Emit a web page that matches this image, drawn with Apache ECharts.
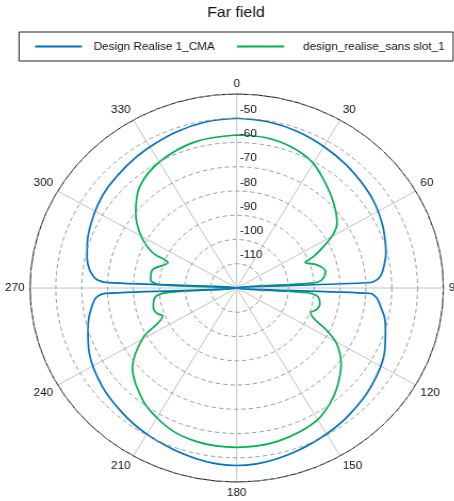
<!DOCTYPE html>
<html><head><meta charset="utf-8">
<script src="https://cdn.jsdelivr.net/npm/echarts@6/dist/echarts.min.js"></script>
<style>
html,body{margin:0;padding:0;background:#fff;overflow:hidden}
#c{width:472px;height:501px;transform:scaleX(1.0655);transform-origin:236.7px 0;}
</style>
</head><body><div id="c"></div>
<script>
// ---- data ----
const titleText = 'Far field';
const seriesNames = ['Design Realise 1_CMA', 'design_realise_sans slot_1'];
const angleTicks = [0, 30, 60, 90, 120, 150, 180, 210, 240, 270, 300, 330];
const radiusTicks = [-120, -110, -100, -90, -80, -70, -60, -50, -40];

const blueAngles = [0,10,20,30,40,50,57,65,72,76,81,84,85.5,86.5,87.5,90,92.5,93.5,95,98,102,106,115,128,140,150,160,168,174,180,186,192,200,210,220,232,245,253,258,262,265,266.5,267.5,270,272.5,273.5,275,277.6,282,288,295,302.6,310,320,329,340,350,360];
const blueValues = [-50,-50.4,-51.3,-52.6,-53.9,-55.2,-56.2,-57.8,-59.5,-60.5,-62.3,-63.6,-64.6,-65.8,-68,-120,-68,-66.5,-65.2,-63.7,-61.5,-60.1,-56.9,-54.0,-52.0,-50.5,-49.0,-47.8,-47.1,-46.8,-47.1,-47.8,-49.0,-50.4,-52.0,-54.0,-57.0,-59.8,-61.5,-63.3,-64.8,-66.2,-69,-120,-70,-66,-64.3,-62.5,-60.8,-59.2,-57.7,-56.2,-55.1,-54.0,-52.9,-51.5,-50.5,-50];

const greenAngles = [0,10,20,29,37,47,55.5,59,63,66.4,68.4,72.8,78.8,84.1,86,90,94,96,101.8,106,109.7,116.8,120.9,127.9,136.6,143,150,158,166,173,180,187,194,202,210,218,230.9,240.5,248.2,251,255.9,262.8,266,270,272.6,275.8,283,291.5,294,299.9,308.3,318.1,330.2,345,360];
const greenValues = [-56.9,-57.0,-58.1,-60.3,-64.1,-68.7,-72.9,-76.2,-82.2,-87.5,-91.5,-87.5,-85,-86.8,-90.1,-120,-93.5,-88.7,-87.1,-87.8,-89.6,-80.8,-74.8,-68.8,-63.5,-60.2,-57.3,-55.8,-54.8,-54.4,-54.3,-54.4,-54.8,-55.9,-58.2,-61.1,-68,-78.4,-89.1,-87.5,-86.7,-88,-93,-120,-90.6,-86.5,-86.5,-91.4,-84.5,-77.4,-70.2,-63.8,-60,-57.6,-56.9];

const colors = ['#0072BD', '#00B050'];

function pairs(vals, angs) { return vals.map((v, i) => [v, angs[i]]); }

const chart = echarts.init(document.getElementById('c'), null, {renderer: 'canvas'});
const FONT = 'Liberation Sans, Arial, Helvetica, sans-serif';
chart.setOption({
  animation: false,
  backgroundColor: '#fff',
  title: {
    text: titleText, left: 'center', top: 0,
    textStyle: {fontFamily: FONT, fontSize: 15, fontWeight: 'normal', color: '#111'}
  },
  legend: {
    data: [
      {name: seriesNames[0], textStyle: {padding: [0, 0, 0, 6]}},
      {name: seriesNames[1], textStyle: {padding: [0, 0, 0, 13]}}
    ],
    left: 32.4, top: 32,
    orient: 'horizontal',
    padding: [9, 8, 9, 15],
    borderColor: '#222', borderWidth: 1,
    icon: 'rect', itemWidth: 44, itemHeight: 2,
    itemGap: 21,
    textStyle: {fontFamily: FONT, fontSize: 11, color: '#111'}
  },
  polar: {center: [236.7, 288], radius: 194},
  angleAxis: {
    type: 'value', min: 0, max: 360, interval: 30,
    startAngle: 90, clockwise: true,
    axisLine: {show: true, lineStyle: {color: '#111', width: 1}},
    axisTick: {show: false},
    axisLabel: {
      margin: 5, fontFamily: FONT, fontSize: 11, color: '#111',
      formatter: v => angleTicks.indexOf(v) >= 0 ? String(v) : ''
    },
    splitLine: {show: true, lineStyle: {color: '#c4c4c4', width: 1}}
  },
  radiusAxis: {
    type: 'value', min: radiusTicks[0], max: radiusTicks[radiusTicks.length - 1], interval: 10,
    axisLine: {show: false}, axisTick: {show: false},
    axisLabel: {
      margin: -3, align: 'left', verticalAlign: 'bottom', padding: [0, 0, 3, 0],
      fontFamily: FONT, fontSize: 11, color: '#111',
      formatter: v => (v === radiusTicks[0] || v === radiusTicks[radiusTicks.length - 1]) ? '' : String(v)
    },
    splitLine: {show: true, lineStyle: {color: '#9a9a9a', width: 1, type: [4, 3]}},
    z: 5
  },
  series: [
    {name: seriesNames[1], type: 'line', coordinateSystem: 'polar', data: pairs(greenValues, greenAngles),
     smooth: 0.35, symbol: 'none', showSymbol: false, lineStyle: {color: colors[1], width: 1.7}, itemStyle: {color: colors[1]}, z: 2},
    {name: seriesNames[0], type: 'line', coordinateSystem: 'polar', data: pairs(blueValues, blueAngles),
     smooth: 0.35, symbol: 'none', showSymbol: false, lineStyle: {color: colors[0], width: 1.7}, itemStyle: {color: colors[0]}, z: 3}
  ]
});
</script></body></html>
